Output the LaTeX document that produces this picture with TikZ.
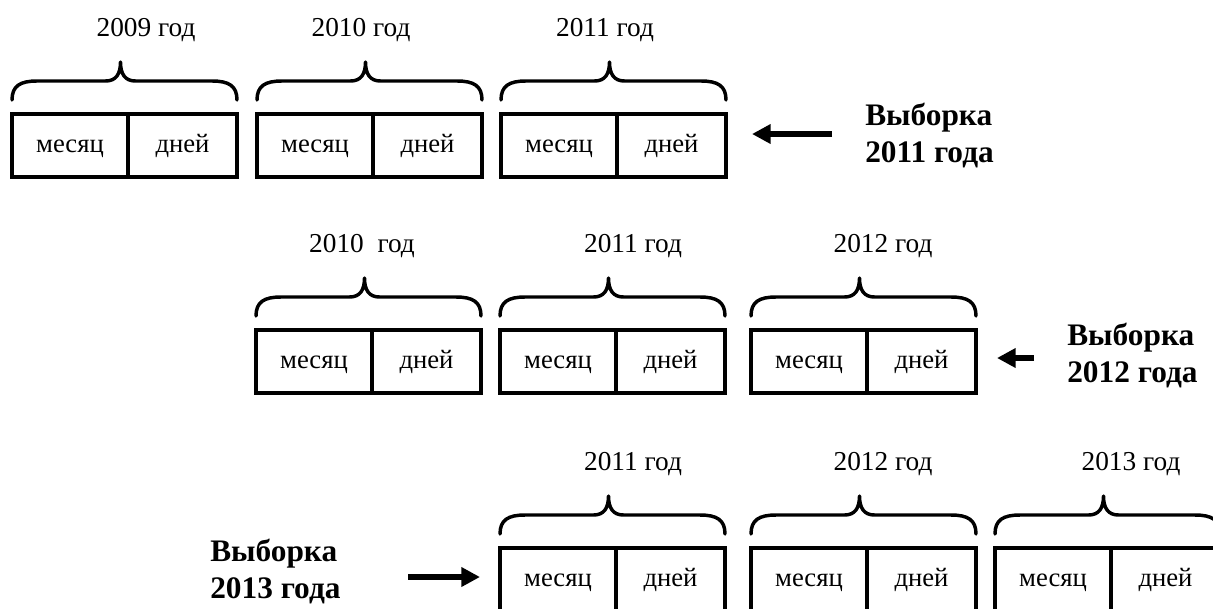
\documentclass[tikz,border=0pt]{standalone}
\usepackage{fontspec}
\setmainfont{Liberation Serif}
\usetikzlibrary{arrows.meta}
\tikzset{
  cellbox/.style={draw, line width=3pt, minimum height=47.25pt, inner sep=0pt,
    text height=13pt, text depth=3.25pt, font=\fontsize{20}{24}\selectfont},
  bracestyle/.style={line width=2.6pt, line cap=round, line join=round},
  yearlbl/.style={anchor=base, inner sep=0pt, font=\fontsize{20.5}{24}\selectfont},
  sellbl/.style={anchor=base west, inner sep=0pt, align=left,
    font=\fontsize{23.5}{27.75}\selectfont\bfseries},
  selarrow/.style={line width=4.5pt, -{Triangle[length=14pt,width=14pt]}}
}
\newcommand\yrbox[5]{%
  \node[cellbox, minimum width=87pt] (#1m) at ({#2+58},{#3+31.5}) {месяц};
  \node[cellbox, minimum width=81.75pt] (#1d) at ({#2+170.5},{#3+31.5}) {дней};
  \draw[bracestyle] ({#2},{#3-14}) .. controls ({#2},{#3-28}) and ({#2+8},{#3-33}) .. ({#2+25},{#3-33})
    -- ({#2+93.5},{#3-33}) .. controls ({#2+104},{#3-33}) and ({#2+108.5},{#3-40}) .. ({#2+108.5},{#3-52})
    .. controls ({#2+108.5},{#3-40}) and ({#2+113},{#3-33}) .. ({#2+123.5},{#3-33})
    -- ({#2+200},{#3-33}) .. controls ({#2+217},{#3-33}) and ({#2+225},{#3-28}) .. ({#2+225},{#3-14});
  \node[yearlbl] (#1y) at ({#5},{#3-78}) {#4};
}
\begin{document}
\begin{tikzpicture}[x=0.75pt,y=-0.75pt]
\clip (0,0) rectangle (1213,608);
% row 1
\yrbox{ra}{12}{114}{2009 год}{146}
\yrbox{rb}{257}{114}{2010 год}{361}
\yrbox{rc}{501}{114}{2011 год}{605}
\node[sellbl] (s1) at (865,162) {Выборка\\2011 года};
\coordinate (a1s) at (832,134);
\coordinate (a1e) at (752,134);
\draw[selarrow] (a1s) -- (a1e);
% row 2
\yrbox{sa}{256}{330}{2010\ \ год}{362}
\yrbox{sb}{500}{330}{2011 год}{633}
\yrbox{sc}{751}{330}{2012 год}{883}
\node[sellbl] (s2) at (1067,382) {Выборка\\2012 года};
\coordinate (a2s) at (1034,358);
\coordinate (a2e) at (997,358);
\draw[selarrow] (a2s) -- (a2e);
% row 3
\yrbox{ta}{500}{548}{2011 год}{633}
\yrbox{tb}{751}{548}{2012 год}{883}
\yrbox{tc}{995}{548}{2013 год}{1131}
\node[sellbl] (s3) at (210,598) {Выборка\\2013 года};
\coordinate (a3s) at (408,577);
\coordinate (a3e) at (480,577);
\draw[selarrow] (a3s) -- (a3e);
\end{tikzpicture}
\end{document}
